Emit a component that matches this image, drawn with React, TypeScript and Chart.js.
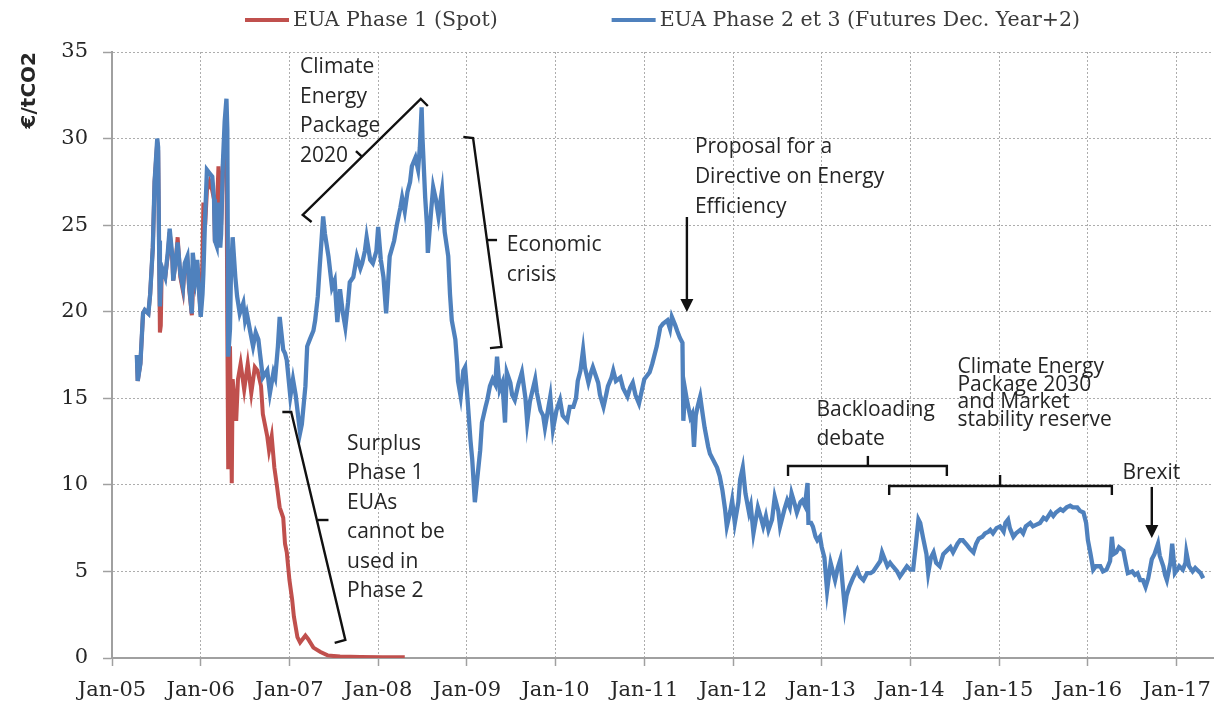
import { useEffect, useRef } from 'react';
import { Chart, registerables } from 'chart.js';

Chart.register(...registerables);

// ---------- axis ticks ----------
const xTickYears = [2005, 2006, 2007, 2008, 2009, 2010, 2011, 2012, 2013, 2014, 2015, 2016, 2017];
const xTickLabels = ['Jan-05', 'Jan-06', 'Jan-07', 'Jan-08', 'Jan-09', 'Jan-10', 'Jan-11', 'Jan-12', 'Jan-13', 'Jan-14', 'Jan-15', 'Jan-16', 'Jan-17'];
const yTickValues = [0, 5, 10, 15, 20, 25, 30, 35];

// ---------- series (date as decimal year, price in EUR/tCO2) ----------
const phase1Label = 'EUA Phase 1 (Spot)';
const phase1Points: [number, number][] = [
  [2005.28, 17.5], [2005.29, 16.0], [2005.32, 17.0], [2005.35, 19.9], [2005.37, 20.1], [2005.41, 19.9], [2005.43, 21.0],
  [2005.46, 23.7], [2005.48, 27.5], [2005.51, 29.8], [2005.52, 29.3], [2005.53, 24.1], [2005.54, 18.8], [2005.55, 19.2],
  [2005.56, 22.4], [2005.60, 22.0], [2005.63, 23.3], [2005.65, 24.6], [2005.68, 23.0], [2005.69, 21.8], [2005.72, 23.0],
  [2005.74, 24.3], [2005.77, 22.0], [2005.80, 21.2], [2005.82, 22.6], [2005.85, 23.0], [2005.87, 21.3], [2005.90, 19.8],
  [2005.91, 21.0], [2005.94, 21.8], [2005.96, 22.8], [2006.00, 19.8], [2006.02, 23.0], [2006.03, 26.3], [2006.05, 25.0],
  [2006.07, 27.0], [2006.10, 27.5], [2006.13, 27.0], [2006.15, 26.5], [2006.16, 24.0], [2006.18, 25.5], [2006.20, 28.4],
  [2006.22, 26.0], [2006.23, 25.0], [2006.25, 28.5], [2006.27, 29.5], [2006.29, 29.8], [2006.30, 18.8], [2006.31, 10.9],
  [2006.33, 18.0], [2006.35, 10.1], [2006.36, 16.1], [2006.40, 13.7], [2006.42, 16.1], [2006.45, 17.0], [2006.49, 15.5],
  [2006.53, 17.0], [2006.57, 15.3], [2006.61, 16.8], [2006.64, 16.6], [2006.68, 15.7], [2006.70, 14.1], [2006.75, 12.8],
  [2006.77, 12.0], [2006.80, 12.8], [2006.83, 11.0], [2006.86, 9.9], [2006.89, 8.7], [2006.93, 8.1], [2006.95, 6.6],
  [2006.97, 6.1], [2007.00, 4.5], [2007.03, 3.4], [2007.05, 2.4], [2007.09, 1.2], [2007.12, 0.9], [2007.18, 1.3],
  [2007.21, 1.1], [2007.27, 0.6], [2007.35, 0.35], [2007.43, 0.15], [2007.57, 0.08], [2007.80, 0.06], [2008.05, 0.05],
  [2008.30, 0.04],
];

const phase2Label = 'EUA Phase 2 et 3 (Futures Dec. Year+2)';
const phase2Points: [number, number][] = [
  // 2005
  [2005.28, 17.5], [2005.29, 16.0], [2005.32, 17.0], [2005.35, 19.9], [2005.37, 20.1], [2005.41, 19.9], [2005.43, 21.0],
  [2005.46, 23.7], [2005.48, 27.5], [2005.51, 30.0], [2005.52, 29.5], [2005.53, 24.1], [2005.54, 20.3], [2005.56, 22.6],
  [2005.60, 22.0], [2005.63, 23.5], [2005.65, 24.8], [2005.68, 23.2], [2005.69, 21.8], [2005.72, 23.0], [2005.74, 24.0],
  [2005.77, 22.2], [2005.80, 21.4], [2005.82, 22.8], [2005.85, 23.2], [2005.87, 21.5], [2005.90, 19.9], [2005.91, 23.4],
  [2005.94, 22.0], [2005.96, 23.0],
  // 2006
  [2006.00, 19.7], [2006.02, 21.0], [2006.03, 22.2], [2006.05, 25.5], [2006.07, 28.2], [2006.10, 28.0], [2006.13, 27.8],
  [2006.15, 26.5], [2006.16, 24.1], [2006.18, 23.8], [2006.19, 26.3], [2006.22, 23.7], [2006.23, 24.5], [2006.25, 28.6],
  [2006.27, 31.0], [2006.29, 32.3], [2006.30, 30.5], [2006.31, 17.4], [2006.33, 19.0], [2006.34, 22.0], [2006.36, 24.3],
  [2006.39, 22.0], [2006.41, 20.9], [2006.44, 19.9], [2006.48, 20.5], [2006.50, 19.5], [2006.52, 19.9], [2006.56, 18.8],
  [2006.59, 18.0], [2006.62, 18.8], [2006.65, 18.4], [2006.67, 17.5], [2006.70, 16.2], [2006.75, 16.6], [2006.78, 15.3],
  [2006.82, 16.5], [2006.84, 16.2], [2006.87, 18.0], [2006.89, 19.7], [2006.93, 17.8], [2006.95, 17.6], [2006.97, 17.2],
  // 2007
  [2007.01, 15.1], [2007.04, 16.1], [2007.07, 15.2], [2007.12, 13.0], [2007.14, 13.5], [2007.18, 15.7], [2007.20, 18.0],
  [2007.23, 18.4], [2007.27, 18.9], [2007.29, 19.5], [2007.32, 20.9], [2007.34, 22.5], [2007.38, 25.5], [2007.40, 24.5],
  [2007.44, 23.2], [2007.48, 21.4], [2007.51, 21.8], [2007.54, 19.4], [2007.57, 21.3], [2007.60, 20.0], [2007.63, 19.1],
  [2007.66, 20.5], [2007.68, 21.7], [2007.72, 22.0], [2007.76, 23.2], [2007.80, 22.5], [2007.82, 22.8], [2007.85, 23.5],
  [2007.87, 24.3], [2007.91, 23.0], [2007.94, 22.8], [2007.98, 23.5],
  // 2008
  [2008.00, 24.9], [2008.03, 23.0], [2008.06, 22.0], [2008.09, 19.9], [2008.11, 21.5], [2008.13, 23.2], [2008.18, 24.1],
  [2008.21, 25.0], [2008.25, 26.0], [2008.27, 26.6], [2008.30, 25.8], [2008.33, 26.9], [2008.36, 27.5], [2008.38, 28.4],
  [2008.42, 28.9], [2008.45, 28.2], [2008.47, 29.5], [2008.49, 31.8], [2008.50, 30.0], [2008.53, 26.6], [2008.55, 25.0],
  [2008.56, 23.4], [2008.60, 26.0], [2008.62, 27.2], [2008.65, 26.5], [2008.68, 25.5], [2008.70, 26.3], [2008.72, 27.0],
  [2008.75, 24.6], [2008.79, 23.2], [2008.81, 21.0], [2008.83, 19.5], [2008.87, 18.4], [2008.89, 17.0], [2008.90, 16.0],
  [2008.93, 15.1], [2008.96, 16.6], [2008.98, 16.8],
  // 2009
  [2009.00, 15.5], [2009.04, 12.6], [2009.06, 11.5], [2009.09, 9.0], [2009.11, 10.0], [2009.15, 12.0], [2009.17, 13.6],
  [2009.21, 14.5], [2009.23, 14.9], [2009.26, 15.7], [2009.29, 16.1], [2009.32, 15.8], [2009.34, 17.4], [2009.37, 15.5],
  [2009.40, 15.9], [2009.43, 13.6], [2009.45, 16.5], [2009.49, 15.9], [2009.51, 15.2], [2009.54, 14.9], [2009.58, 15.8],
  [2009.62, 16.5], [2009.66, 15.0], [2009.68, 13.6], [2009.71, 14.8], [2009.77, 16.1], [2009.79, 15.3], [2009.83, 14.3],
  [2009.86, 14.0], [2009.88, 13.3], [2009.92, 14.5], [2009.94, 15.1], [2009.97, 13.2],
  // 2010
  [2010.01, 14.3], [2010.05, 14.9], [2010.08, 14.0], [2010.13, 13.7], [2010.16, 14.5], [2010.20, 14.5], [2010.23, 15.0],
  [2010.25, 16.0], [2010.28, 16.6], [2010.31, 17.8], [2010.33, 16.8], [2010.37, 15.9], [2010.40, 16.5], [2010.42, 16.8],
  [2010.46, 16.2], [2010.48, 15.9], [2010.50, 15.2], [2010.54, 14.5], [2010.57, 15.2], [2010.59, 15.7], [2010.63, 16.2],
  [2010.65, 16.6], [2010.68, 16.0], [2010.73, 16.2], [2010.76, 15.6], [2010.81, 15.1], [2010.84, 15.6], [2010.87, 15.9],
  [2010.90, 15.2], [2010.94, 14.7], [2010.97, 15.4],
  // 2011
  [2011.00, 16.1], [2011.03, 16.3], [2011.06, 16.5], [2011.09, 17.0], [2011.14, 18.0], [2011.18, 19.1], [2011.21, 19.3],
  [2011.26, 19.5], [2011.29, 19.0], [2011.31, 19.7], [2011.35, 19.2], [2011.37, 18.9], [2011.40, 18.5], [2011.43, 18.2],
  [2011.44, 13.7], [2011.46, 15.5], [2011.48, 14.9], [2011.52, 13.9], [2011.54, 14.1], [2011.56, 12.2], [2011.58, 14.0],
  [2011.60, 14.5], [2011.63, 15.1], [2011.66, 14.0], [2011.68, 13.3], [2011.72, 12.2], [2011.74, 11.8], [2011.77, 11.5],
  [2011.82, 11.0], [2011.85, 10.5], [2011.88, 9.7], [2011.91, 8.6], [2011.93, 7.6], [2011.97, 8.5], [2011.99, 9.1],
  // 2012
  [2012.02, 7.8], [2012.06, 9.0], [2012.08, 10.3], [2012.11, 11.0], [2012.14, 9.5], [2012.18, 8.4], [2012.20, 8.8],
  [2012.23, 7.2], [2012.25, 7.8], [2012.28, 8.7], [2012.32, 8.0], [2012.34, 7.6], [2012.37, 8.2], [2012.40, 7.4],
  [2012.44, 8.0], [2012.47, 9.3], [2012.51, 8.5], [2012.53, 7.6], [2012.58, 8.6], [2012.61, 9.1], [2012.64, 8.7],
  [2012.66, 9.5], [2012.70, 8.8], [2012.72, 8.4], [2012.76, 9.0], [2012.78, 9.1], [2012.81, 8.8], [2012.84, 10.1],
  [2012.85, 7.8], [2012.88, 7.8], [2012.90, 7.6], [2012.93, 7.0], [2012.95, 6.8], [2012.98, 7.0],
  // 2013
  [2013.00, 6.4], [2013.03, 5.8], [2013.06, 3.9], [2013.10, 5.5], [2013.13, 4.9], [2013.15, 4.5], [2013.18, 5.2],
  [2013.21, 5.7], [2013.24, 4.0], [2013.26, 2.9], [2013.28, 3.6], [2013.31, 4.1], [2013.35, 4.6], [2013.40, 5.1],
  [2013.43, 4.7], [2013.47, 4.5], [2013.51, 4.9], [2013.55, 4.9], [2013.58, 5.0], [2013.62, 5.3], [2013.66, 5.6],
  [2013.68, 6.1], [2013.71, 5.7], [2013.74, 5.3], [2013.77, 5.5], [2013.80, 5.3], [2013.85, 5.0], [2013.88, 4.7],
  [2013.92, 5.0], [2013.96, 5.3],
  // 2014
  [2014.00, 5.1], [2014.03, 5.1], [2014.06, 6.5], [2014.09, 8.0], [2014.11, 7.8], [2014.14, 7.0], [2014.18, 6.0],
  [2014.20, 4.9], [2014.23, 5.8], [2014.26, 6.1], [2014.29, 5.5], [2014.33, 5.3], [2014.37, 6.0], [2014.41, 6.2],
  [2014.45, 6.4], [2014.48, 6.1], [2014.53, 6.6], [2014.56, 6.8], [2014.59, 6.8], [2014.64, 6.5], [2014.67, 6.3],
  [2014.71, 6.1], [2014.74, 6.6], [2014.77, 6.9], [2014.81, 7.0], [2014.84, 7.2], [2014.88, 7.3], [2014.90, 7.4],
  [2014.93, 7.2], [2014.97, 7.5],
  // 2015
  [2015.01, 7.6], [2015.05, 7.3], [2015.07, 7.8], [2015.10, 8.0], [2015.12, 7.5], [2015.16, 7.0], [2015.19, 7.2],
  [2015.24, 7.4], [2015.27, 7.2], [2015.30, 7.6], [2015.35, 7.8], [2015.38, 7.6], [2015.42, 7.7], [2015.46, 7.8],
  [2015.50, 8.1], [2015.53, 8.0], [2015.58, 8.4], [2015.61, 8.2], [2015.64, 8.4], [2015.69, 8.6], [2015.72, 8.5],
  [2015.76, 8.7], [2015.80, 8.8], [2015.83, 8.7], [2015.88, 8.7], [2015.91, 8.5], [2015.95, 8.4], [2015.98, 7.8],
  // 2016
  [2016.00, 6.8], [2016.03, 6.0], [2016.06, 5.1], [2016.09, 5.3], [2016.14, 5.3], [2016.17, 5.0], [2016.21, 5.1],
  [2016.25, 5.6], [2016.27, 7.0], [2016.29, 6.0], [2016.32, 6.1], [2016.35, 6.4], [2016.40, 6.2], [2016.43, 5.4],
  [2016.45, 4.9], [2016.50, 5.0], [2016.53, 4.8], [2016.56, 4.9], [2016.59, 4.5], [2016.62, 4.5], [2016.65, 4.1],
  [2016.68, 4.6], [2016.72, 5.7], [2016.75, 6.0], [2016.79, 6.6], [2016.81, 5.9], [2016.85, 5.3], [2016.87, 4.8],
  [2016.89, 4.5], [2016.93, 5.5], [2016.95, 6.6], [2016.97, 5.5], [2016.98, 4.9],
  // 2017
  [2017.02, 5.2], [2017.03, 5.3], [2017.07, 5.1], [2017.10, 5.5], [2017.11, 6.1], [2017.14, 5.3], [2017.18, 5.0],
  [2017.21, 5.2], [2017.23, 5.1], [2017.27, 4.9], [2017.30, 4.6],
];

// ---------- annotations (in data units: decimal year, EUR/tCO2) ----------
const annotationTexts = [
  { lines: ['Climate', 'Energy', 'Package', '2020'], x: 2007.12, y: 34.13, lineHeight: 29.7 },
  { lines: ['Economic', 'crisis'], x: 2009.45, y: 23.85, lineHeight: 30 },
  { lines: ['Proposal for a', 'Directive on Energy', 'Efficiency'], x: 2011.57, y: 29.51, lineHeight: 30 },
  { lines: ['Surplus', 'Phase 1', 'EUAs', 'cannot be', 'used in', 'Phase 2'], x: 2007.65, y: 12.36, lineHeight: 29.4 },
  { lines: ['Backloading', 'debate'], x: 2012.94, y: 14.32, lineHeight: 29 },
  { lines: ['Climate Energy', 'Package 2030', 'and Market', 'stability reserve'], x: 2014.53, y: 16.81, lineHeight: 17.7 },
  { lines: ['Brexit'], x: 2016.39, y: 10.69, lineHeight: 29 },
];

const annotationBrackets: [number, number][][] = [
  [[2007.25, 25.18], [2007.15, 25.59], [2008.48, 32.29], [2008.56, 31.88]],
  [[2007.82, 28.94], [2007.75, 29.28]],
  [[2008.96, 30.09], [2009.07, 30.03], [2009.39, 17.96], [2009.26, 17.90]],
  [[2009.23, 24.14], [2009.34, 24.14]],
  [[2006.92, 14.21], [2007.02, 14.21], [2007.63, 1.04], [2007.51, 0.87]],
  [[2007.32, 7.97], [2007.44, 7.97]],
  [[2012.62, 10.51], [2012.62, 11.09], [2014.41, 11.09], [2014.41, 10.51]],
  [[2013.52, 11.09], [2013.52, 11.67]],
  [[2013.76, 9.41], [2013.76, 9.93], [2016.27, 9.93], [2016.27, 9.41]],
  [[2015.01, 9.93], [2015.01, 10.57]],
];

const annotationArrows: { x: number; from: number; to: number }[] = [
  { x: 2011.48, from: 25.47, to: 19.98 },
  { x: 2016.72, from: 9.88, to: 6.93 },
];

const RED = '#C0504D';
const BLUE = '#4F81BD';
const TEXT_COLOR = '#262626';
const AXIS_COLOR = '#A0A0A0';
const GRID_COLOR = '#ADADAD';

const legendPlugin = {
  id: 'topLegend',
  afterDraw(chart: any) {
    const { ctx, chartArea } = chart;
    const ds = chart.data.datasets;
    ctx.save();
    ctx.font = '20.5px "DejaVu Serif"';
    ctx.textBaseline = 'middle';
    ctx.textAlign = 'left';
    const sample = 44;
    const gapText = 4;
    const gapItem = 114;
    const widths = ds.map((d: any) => ctx.measureText(d.label).width);
    const total = widths.reduce((a: number, w: number) => a + sample + gapText + w, 0) + gapItem * (ds.length - 1);
    let x = (chartArea.left + chartArea.right) / 2 - total / 2;
    const y = 20;
    ds.forEach((d: any, i: number) => {
      ctx.strokeStyle = d.borderColor;
      ctx.lineWidth = 4;
      ctx.beginPath();
      ctx.moveTo(x, y);
      ctx.lineTo(x + sample, y);
      ctx.stroke();
      ctx.fillStyle = '#3a3a3a';
      ctx.fillText(d.label, x + sample + gapText, y + 1);
      x += sample + gapText + widths[i] + gapItem;
    });
    ctx.restore();
  },
};

const annotationPlugin = {
  id: 'eventNotes',
  afterDatasetsDraw(chart: any) {
    const { ctx } = chart;
    const xs = chart.scales.x;
    const ys = chart.scales.y;
    const px = (v: number) => xs.getPixelForValue(v);
    const py = (v: number) => ys.getPixelForValue(v);
    ctx.save();
    ctx.strokeStyle = '#111111';
    ctx.fillStyle = '#111111';
    ctx.lineWidth = 2.4;
    ctx.lineJoin = 'miter';
    ctx.lineCap = 'butt';
    annotationBrackets.forEach((pts) => {
      ctx.beginPath();
      pts.forEach(([a, b], i) => {
        if (i === 0) ctx.moveTo(px(a), py(b));
        else ctx.lineTo(px(a), py(b));
      });
      ctx.stroke();
    });
    annotationArrows.forEach((ar) => {
      const x = px(ar.x);
      const y0 = py(ar.from);
      const y1 = py(ar.to);
      const head = 13;
      ctx.beginPath();
      ctx.moveTo(x, y0);
      ctx.lineTo(x, y1 - head + 1);
      ctx.stroke();
      ctx.beginPath();
      ctx.moveTo(x, y1);
      ctx.lineTo(x - 6.5, y1 - head);
      ctx.lineTo(x + 6.5, y1 - head);
      ctx.closePath();
      ctx.fill();
    });
    ctx.font = '21px "Open Sans"';
    ctx.fillStyle = TEXT_COLOR;
    ctx.textAlign = 'left';
    ctx.textBaseline = 'middle';
    annotationTexts.forEach((t) => {
      const x = px(t.x);
      const y = py(t.y);
      t.lines.forEach((line, i) => ctx.fillText(line, x, y + i * t.lineHeight));
    });
    ctx.restore();
  },
};

export default function App() {
  const canvasRef = useRef<HTMLCanvasElement>(null);

  useEffect(() => {
    document.body.style.margin = '0';
    document.body.style.overflow = 'hidden';
    const canvas = canvasRef.current;
    if (!canvas) return;

    const tickFont = { family: '"DejaVu Serif"', size: 21 };

    const chart = new Chart(canvas, {
      type: 'line',
      data: {
        datasets: [
          {
            label: phase1Label,
            data: phase1Points.map(([x, y]) => ({ x, y })),
            borderColor: RED,
            backgroundColor: RED,
            borderWidth: 4,
            pointRadius: 0,
            tension: 0,
            order: 1,
          },
          {
            label: phase2Label,
            data: phase2Points.map(([x, y]) => ({ x, y })),
            borderColor: BLUE,
            backgroundColor: BLUE,
            borderWidth: 4.3,
            pointRadius: 0,
            tension: 0,
            order: 0,
          },
        ],
      },
      options: {
        animation: false,
        responsive: false,
        maintainAspectRatio: false,
        devicePixelRatio: 1,
        layout: { padding: { top: 52, right: 2, left: 0, bottom: 0 } },
        plugins: {
          legend: { display: false },
          tooltip: { enabled: false },
        },
        scales: {
          x: {
            type: 'linear',
            min: 2005,
            max: 2017.41,
            afterBuildTicks: (s: any) => {
              s.ticks = xTickYears.map((v) => ({ value: v }));
            },
            afterFit: (s: any) => {
              s.height = 48;
              s.paddingRight = 2;
              s.paddingLeft = 0;
            },
            ticks: {
              autoSkip: false,
              maxRotation: 0,
              minRotation: 0,
              padding: 12,
              color: TEXT_COLOR,
              font: tickFont,
              callback: (v: any) => {
                const i = xTickYears.indexOf(Number(v));
                return i >= 0 ? xTickLabels[i] : '';
              },
            },
            grid: {
              color: GRID_COLOR,
              lineWidth: 1,
              tickLength: 8,
              tickColor: AXIS_COLOR,
              tickWidth: 1.5,
              tickBorderDash: [],
            },
            border: { display: true, color: AXIS_COLOR, width: 2, dash: [2, 2] },
          },
          y: {
            type: 'linear',
            min: 0,
            max: 35,
            afterBuildTicks: (s: any) => {
              s.ticks = yTickValues.map((v) => ({ value: v }));
            },
            afterFit: (s: any) => {
              s.width = 112;
              s.paddingTop = 0;
            },
            ticks: {
              padding: 15,
              color: TEXT_COLOR,
              font: tickFont,
            },
            grid: {
              color: GRID_COLOR,
              lineWidth: 1,
              tickLength: 9,
              tickColor: AXIS_COLOR,
              tickWidth: 1.5,
              tickBorderDash: [],
            },
            border: { display: true, color: AXIS_COLOR, width: 2, dash: [2, 2] },
            title: {
              display: true,
              text: '€/tCO2',
              align: 'end',
              color: TEXT_COLOR,
              font: { family: '"DejaVu Sans"', size: 20, weight: 'bold' },
              padding: { top: 18, bottom: 0 },
            },
          },
        },
      },
      plugins: [annotationPlugin, legendPlugin],
    } as any);

    return () => {
      chart.destroy();
    };
  }, []);

  return (
    <div style={{ width: 1215, height: 706 }}>
      <canvas ref={canvasRef} width={1215} height={706} style={{ display: 'block', width: 1215, height: 706 }} />
    </div>
  );
}
